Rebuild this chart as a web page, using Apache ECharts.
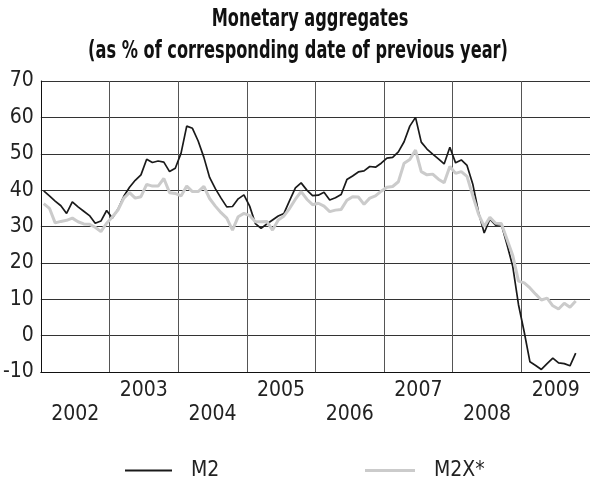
<!DOCTYPE html>
<html>
<head>
<meta charset="utf-8">
<script src="https://cdn.jsdelivr.net/npm/echarts@6/dist/echarts.min.js"></script>
<style>html,body{margin:0;padding:0;background:#fff;}#c{width:590px;height:482px;}</style>
</head>
<body>
<div id="c"></div>
<script>
// Monthly observations, Jan 2002 .. Oct 2009 (% y/y)
const startYear = 2002;
const yearLabels = [2002, 2003, 2004, 2005, 2006, 2007, 2008, 2009];
const yTicks = [-10, 0, 10, 20, 30, 40, 50, 60, 70];
const titleLines = ['Monetary aggregates', '(as % of corresponding date of previous year)'];
const m2 = [
  39.8, 38.4, 37.0, 35.7, 33.6, 36.8, 35.4, 34.2, 33.0, 30.9, 31.5, 34.4,
  32.3, 34.8, 38.3, 40.8, 42.7, 44.2, 48.5, 47.6, 48.0, 47.7, 45.1, 46.0,
  50.1, 57.6, 57.0, 53.5, 49.0, 43.5, 40.4, 37.8, 35.4, 35.5, 37.6, 38.7,
  35.6, 30.8, 29.5, 30.7, 31.8, 32.9, 33.6, 37.2, 40.6, 42.0, 40.0, 38.5,
  38.6, 39.4, 37.3, 37.9, 38.8, 42.9, 43.9, 45.0, 45.3, 46.5, 46.3, 47.4,
  48.8, 49.0, 50.5, 53.3, 57.6, 60.0, 53.2, 51.3, 49.9, 48.6, 47.2, 51.8,
  47.5, 48.3, 46.8, 41.7, 34.0, 28.2, 32.0, 30.4, 30.6, 25.0, 19.0, 8.5,
  1.0, -7.2, -8.2, -9.3, -7.7, -6.2, -7.5, -7.7, -8.3, -4.8
];
const m2x = [
  36.3, 35.0, 31.0, 31.4, 31.7, 32.3, 31.3, 30.7, 30.6, 29.8, 28.6, 30.9,
  32.6, 34.6, 37.8, 39.3, 37.8, 38.2, 41.6, 41.1, 41.1, 43.2, 39.3, 39.1,
  38.4, 41.1, 39.6, 39.6, 41.0, 37.7, 35.6, 33.8, 32.3, 29.0, 32.7, 33.6,
  33.0, 31.3, 31.3, 31.4, 29.0, 31.8, 32.9, 35.0, 37.5, 39.6, 37.5, 36.0,
  36.4, 35.6, 34.1, 34.5, 34.7, 37.2, 38.2, 38.1, 36.1, 37.8, 38.4, 39.7,
  40.8, 41.0, 42.3, 47.4, 48.4, 51.0, 45.1, 44.2, 44.4, 43.0, 42.0, 46.5,
  44.6, 45.1, 43.8, 38.5, 33.5, 30.0, 32.5, 30.9, 30.8, 26.4, 22.0, 15.0,
  14.5, 13.1, 11.4, 9.8, 10.3, 8.2, 7.3, 8.9, 7.8, 9.5
];

const FONT = "'Liberation Sans Narrow', 'DejaVu Sans Condensed', 'Noto Sans', sans-serif";
const toPairs = arr => arr.map((v, i) => [startYear + (i + 0.5) / 12, v]);

const chart = echarts.init(document.getElementById('c'), null, {renderer: 'canvas'});
chart.setOption({
  backgroundColor: '#fff',
  animation: false,
  graphic: [
    {type: 'text', x: 310, y: 20, scaleX: 0.75, z: 10,
     style: {text: titleLines[0], font: 'bold 24px ' + FONT, fill: '#111', align: 'center', verticalAlign: 'middle'}},
    {type: 'text', x: 298, y: 52, scaleX: 0.75, z: 10,
     style: {text: titleLines[1], font: 'bold 24px ' + FONT, fill: '#111', align: 'center', verticalAlign: 'middle'}}
  ],
  legend: [
    {data: [{name: 'M2', icon: 'rect'}], left: 120, top: 455, itemWidth: 47, itemHeight: 2,
     textStyle: {fontFamily: FONT, fontSize: 21, color: '#222', padding: [0, 0, 0, 14]}},
    {data: [{name: 'M2X*', icon: 'rect'}], left: 360, top: 455, itemWidth: 50, itemHeight: 3,
     textStyle: {fontFamily: FONT, fontSize: 21, color: '#222', padding: [0, 0, 0, 14]}}
  ],
  grid: {left: 39, top: 81, width: 554, height: 291, containLabel: false},
  xAxis: {
    type: 'value', min: startYear, max: startYear + 8, interval: 1,
    axisLine: {show: true, onZero: false, lineStyle: {color: '#111', width: 1}},
    axisTick: {show: false},
    splitLine: {show: true, lineStyle: {color: '#555', width: 1}},
    axisLabel: {
      customValues: yearLabels.map(y => y + 0.5),
      formatter: v => { const y = Math.floor(v); return (y % 2 === 0 ? '\n' : '') + y; },
      fontFamily: FONT, fontSize: 21, color: '#222', lineHeight: 24, margin: 7
    }
  },
  yAxis: {
    type: 'value', min: yTicks[0], max: yTicks[yTicks.length - 1], interval: 10,
    axisLine: {show: true, lineStyle: {color: '#111', width: 1}},
    axisTick: {show: false},
    splitLine: {show: true, lineStyle: {color: '#333', width: 1}},
    axisLabel: {fontFamily: FONT, fontSize: 21, color: '#222', margin: 7}
  },
  series: [
    {name: 'M2', type: 'line', data: toPairs(m2), symbol: 'none', showSymbol: false,
     lineStyle: {color: '#1a1a1a', width: 1.7}, itemStyle: {color: '#1a1a1a'}, z: 3},
    {name: 'M2X*', type: 'line', data: toPairs(m2x), symbol: 'none', showSymbol: false,
     lineStyle: {color: '#cbcbcb', width: 3}, itemStyle: {color: '#cbcbcb'}, z: 4}
  ]
});
</script>
</body>
</html>
